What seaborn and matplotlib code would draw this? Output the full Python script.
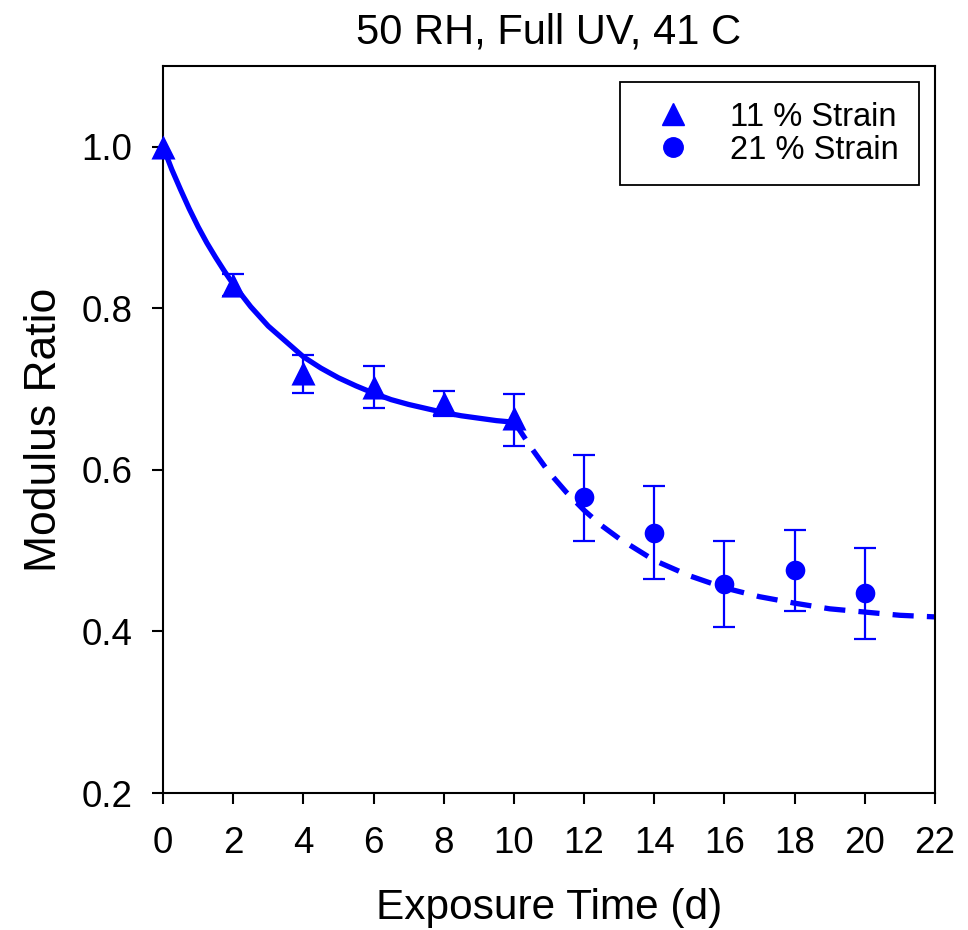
import matplotlib
matplotlib.use("Agg")
import matplotlib.pyplot as plt
import seaborn as sns
import pandas as pd
from matplotlib.lines import Line2D

# ---- data ----
t11 = [0, 2, 4, 6, 8, 10]
m11 = [1.000, 0.829, 0.720, 0.703, 0.683, 0.664]
lo11 = [1.000, 0.815, 0.695, 0.676, 0.667, 0.630]
hi11 = [1.000, 0.843, 0.742, 0.729, 0.698, 0.694]

t21 = [12, 14, 16, 18, 20]
m21 = [0.567, 0.522, 0.459, 0.476, 0.448]
lo21 = [0.512, 0.465, 0.406, 0.425, 0.391]
hi21 = [0.619, 0.580, 0.512, 0.526, 0.503]

# fitted curves
fit1_x = [0, 0.25, 0.5, 0.75, 1, 1.25, 1.5, 1.75, 2, 2.5, 3, 3.5, 4, 4.5,
          5, 5.5, 6, 6.5, 7, 7.5, 8, 8.5, 9, 9.5, 10]
fit1_y = [1.000, 0.972, 0.947, 0.923, 0.901, 0.881, 0.863, 0.846, 0.830,
          0.802, 0.778, 0.759, 0.740, 0.726, 0.714, 0.704, 0.695, 0.687,
          0.681, 0.676, 0.671, 0.667, 0.664, 0.661, 0.659]
fit2_x = [10, 10.5, 11, 11.5, 12, 12.5, 13, 14, 15, 16, 17, 18, 19, 20, 21, 22]
fit2_y = [0.660, 0.627, 0.597, 0.572, 0.550, 0.531, 0.515, 0.488, 0.469,
          0.454, 0.443, 0.435, 0.428, 0.424, 0.420, 0.418]

xticks = [0, 2, 4, 6, 8, 10, 12, 14, 16, 18, 20, 22]
yticks = [0.2, 0.4, 0.6, 0.8, 1.0]
title = "50 RH, Full UV, 41 C"
labels = ["11 % Strain", "21 % Strain"]

BLUE = "#0000ff"

sns.set_style("ticks")
plt.rcParams["font.family"] = ["Liberation Sans", "DejaVu Sans"]
plt.rcParams["text.color"] = "black"
plt.rcParams["axes.labelcolor"] = "black"

fig = plt.figure(figsize=(9.68, 9.30), dpi=100)
ax = fig.add_axes([163 / 968, 1 - 793 / 930, (935 - 163) / 968, (793 - 66) / 930])

d1 = pd.DataFrame({"x": fit1_x, "y": fit1_y})
d2 = pd.DataFrame({"x": fit2_x, "y": fit2_y})
sns.lineplot(data=d1, x="x", y="y", ax=ax, color=BLUE, lw=3.8, sort=False)
sns.lineplot(data=d2, x="x", y="y", ax=ax, color=BLUE, lw=3.8, sort=False)
ax.lines[-1].set_dashes((4, 2.5))

ax.errorbar(t11[1:], m11[1:],
            yerr=[[m - l for m, l in zip(m11[1:], lo11[1:])],
                  [h - m for m, h in zip(m11[1:], hi11[1:])]],
            fmt="none", ecolor=BLUE, elinewidth=1.6, capsize=8, capthick=1.6)
ax.errorbar(t21, m21,
            yerr=[[m - l for m, l in zip(m21, lo21)],
                  [h - m for m, h in zip(m21, hi21)]],
            fmt="none", ecolor=BLUE, elinewidth=1.6, capsize=8, capthick=1.6)

p1 = pd.DataFrame({"x": t11, "y": m11})
p2 = pd.DataFrame({"x": t21, "y": m21})
sns.scatterplot(data=p1, x="x", y="y", ax=ax, marker="^", s=300, color=BLUE,
                edgecolor=BLUE, linewidth=0, zorder=5, clip_on=False)
sns.scatterplot(data=p2, x="x", y="y", ax=ax, marker="o", s=200, color=BLUE,
                edgecolor=BLUE, linewidth=0, zorder=5)

ax.set_xlim(0, 22)
ax.set_ylim(0.2, 1.1)
ax.set_xticks(xticks)
ax.set_xticklabels([str(v) for v in xticks])
ax.set_yticks(yticks)
ax.set_yticklabels([f"{v:.1f}" for v in yticks])
ax.tick_params(direction="out", length=8, width=1.5, labelsize=26.5,
               color="black", labelcolor="black")
ax.tick_params(axis="x", pad=16)
ax.tick_params(axis="y", pad=14)
for s in ax.spines.values():
    s.set_visible(True)
    s.set_linewidth(1.5)
    s.set_color("black")

ax.set_xlabel("Exposure Time (d)", fontsize=30.5, labelpad=19)
ax.set_ylabel("Modulus Ratio", fontsize=32, labelpad=12)
ax.set_title(title, fontsize=30, pad=16)

handles = [Line2D([], [], marker="^", ls="none", color=BLUE, markersize=16),
           Line2D([], [], marker="o", ls="none", color=BLUE, markersize=14)]
leg = ax.legend(handles, labels, loc="upper right", fontsize=23.5,
                frameon=True, fancybox=False, edgecolor="black",
                framealpha=1, borderpad=0.6, handletextpad=0.72,
                labelspacing=0.05, borderaxespad=0.5, handlelength=2.05)
leg.get_frame().set_linewidth(1.3)

fig.savefig("out.png", dpi=100)
